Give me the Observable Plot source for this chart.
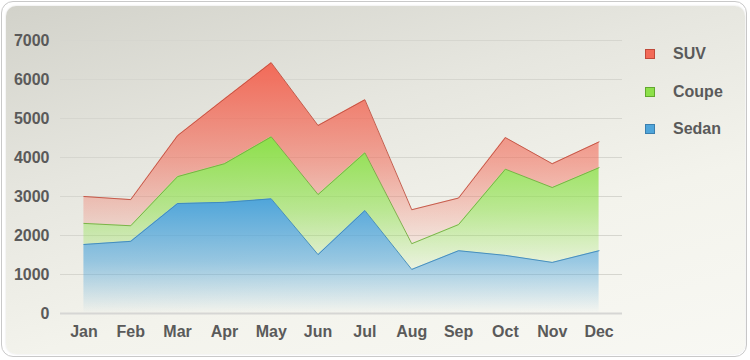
<!DOCTYPE html>
<html>
<head>
<meta charset="utf-8">
<script src="https://cdn.jsdelivr.net/npm/d3@7"></script>
<script src="https://cdn.jsdelivr.net/npm/@observablehq/plot@0.6"></script>
<style>
  html, body { margin: 0; padding: 0; background: #ffffff; }
  #wrap { position: relative; width: 750px; height: 360px; overflow: hidden; font-family: "Liberation Sans", Arial, sans-serif; }
  #outer { position: absolute; left: 1px; top: 1px; width: 746px; height: 356px; box-sizing: border-box;
           border: 1px solid #c9c9c9; border-radius: 12px; background: #ffffff; }
  #inner { position: absolute; left: 6px; top: 6px; width: 739px; height: 348px; border-radius: 10px;
           background: linear-gradient(165deg, #d2d2ca 0%, #e6e6df 35%, #f3f3ec 65%, #f8f8f3 100%);
           box-shadow: 0 0 2px rgba(0,0,0,0.15); }
  #chart { position: absolute; left: 0; top: 0; }
  #legend { position: absolute; left: 645px; top: 0; }
  .item { position: absolute; left: 0; width: 120px; height: 20px; display: flex; align-items: center; }
  .sw { width: 10px; height: 10px; box-sizing: border-box; border: 1px solid; margin-right: 18px; }
  .lab { font: bold 16px "Liberation Sans", Arial, sans-serif; color: #5a5a5a; }
</style>
</head>
<body>
<div id="wrap">
  <div id="outer"></div>
  <div id="inner"></div>
  <div id="chart"></div>
  <div id="legend"></div>
</div>
<script>
const months = ["Jan","Feb","Mar","Apr","May","Jun","Jul","Aug","Sep","Oct","Nov","Dec"];
const sedan = [1770,1850,2820,2850,2940,1510,2640,1130,1610,1490,1310,1610];
const coupe = [540,400,690,990,1590,1540,1480,660,670,2210,1920,2130];
const suv   = [690,670,1050,1660,1900,1770,1360,870,680,810,610,660];
const yTicks = [0,1000,2000,3000,4000,5000,6000,7000];

const seriesNames = ["Sedan","Coupe","SUV"];
const seriesValues = [sedan, coupe, suv];
const fills = {Sedan: "#4fa5da", Coupe: "#8de04a", SUV: "#f26a58"};
const strokes = {Sedan: "#3e88b8", Coupe: "#72ad3e", SUV: "#c0503f"};
const legendBorders = {Sedan: "#3b7fae", Coupe: "#62a82e", SUV: "#c04a3a"};
const gradBottomOpacity = {Sedan: 0.0, Coupe: 0.08, SUV: 0.1};

// stacked rows
const stacks = {};
let base = months.map(() => 0);
seriesNames.forEach((name, s) => {
  stacks[name] = months.map((m, i) => ({i, month: m, y1: base[i], y2: base[i] + seriesValues[s][i]}));
  base = base.map((b, i) => b + seriesValues[s][i]);
});

const marks = [
  Plot.gridY(yTicks.filter(t => t > 0), {stroke: "#d6d6cf", strokeOpacity: 1, strokeWidth: 1})
];
seriesNames.forEach(name => {
  marks.push(Plot.areaY(stacks[name], {x: "i", y1: "y1", y2: "y2", fill: `url(#grad-${name})`}));
});
seriesNames.forEach(name => {
  marks.push(Plot.lineY(stacks[name], {x: "i", y: "y2", stroke: strokes[name], strokeWidth: 1, strokeOpacity: 0.9}));
});
marks.push(Plot.ruleY([0], {stroke: "#d6d6d4", strokeWidth: 2}));
marks.push(Plot.axisY({ticks: yTicks, tickFormat: d => String(d), tickSize: 0, tickPadding: 11, fontSize: 16, fontWeight: "bold", fill: "#5a5a5a", label: null}));
marks.push(Plot.axisX({ticks: d3.range(12), tickFormat: i => months[i], tickSize: 0, tickPadding: 12, fontSize: 16, fontWeight: "bold", fill: "#5a5a5a", label: null}));

const svg = Plot.plot({
  width: 750,
  height: 360,
  marginLeft: 60,
  marginRight: 128,
  marginTop: 40,
  marginBottom: 47,
  style: {background: "transparent", fontFamily: "'Liberation Sans', Arial, sans-serif", overflow: "visible"},
  x: {type: "linear", domain: [-0.5, 11.5]},
  y: {domain: [0, 7000]},
  marks
});

// gradient defs
const defs = d3.create("svg:defs");
seriesNames.forEach(name => {
  const g = defs.append("linearGradient").attr("id", `grad-${name}`)
    .attr("x1", 0).attr("y1", 0).attr("x2", 0).attr("y2", 1);
  g.append("stop").attr("offset", "0%").attr("stop-color", fills[name]).attr("stop-opacity", 1);
  g.append("stop").attr("offset", "55%").attr("stop-color", fills[name]).attr("stop-opacity", 0.55);
  g.append("stop").attr("offset", "100%").attr("stop-color", fills[name]).attr("stop-opacity", gradBottomOpacity[name]);
});
svg.insertBefore(defs.node(), svg.firstChild);
document.getElementById("chart").appendChild(svg);

// legend
const legend = d3.select("#legend");
const legendOrder = ["SUV", "Coupe", "Sedan"];
const legendY = [44, 82, 119];
legendOrder.forEach((name, k) => {
  const it = legend.append("div").attr("class", "item").style("top", legendY[k] + "px");
  it.append("div").attr("class", "sw").style("background", fills[name]).style("border-color", legendBorders[name]);
  it.append("span").attr("class", "lab").text(name);
});
</script>
</body>
</html>
